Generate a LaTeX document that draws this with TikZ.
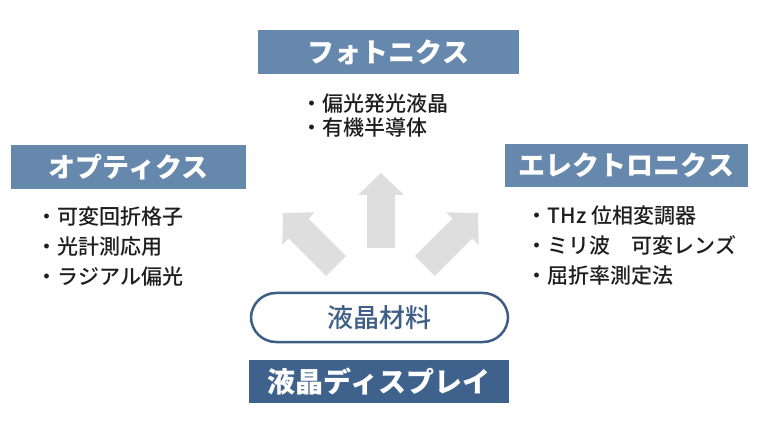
\documentclass[tikz,border=0pt]{standalone}
\usepackage{fontspec}
\newfontfamily\jp{Noto Sans CJK JP}
\newfontfamily\jpm{Noto Sans CJK JP Medium}
\definecolor{titleblue}{RGB}{102,136,172}
\definecolor{darkblue}{RGB}{62,98,140}
\definecolor{pillblue}{RGB}{62,94,134}
\definecolor{arrowgray}{RGB}{222,222,222}
\definecolor{textgray}{RGB}{30,30,30}
\tikzset{
  titlebox/.style={fill=titleblue, text=white, inner sep=0pt, font=\jp\bfseries\fontsize{27bp}{32bp}\selectfont},
  listtext/.style={anchor=west, inner sep=0pt, align=left, text=textgray, font=\jpm\fontsize{21bp}{30bp}\selectfont},
  bigarrow/.pic={\fill[arrowgray] (0,0) -- (23,22) -- (14,22) -- (14,75) -- (-14,75) -- (-14,22) -- (-23,22) -- cycle;}
}
\begin{document}
\begin{tikzpicture}[x=1bp,y=-1bp]
\useasboundingbox (0,0) rectangle (759,433);
\node[titlebox, minimum width=261bp, minimum height=44bp] (photo) at (388.5,52) {フォトニクス};
\node[titlebox, minimum width=235bp, minimum height=44bp] (optics) at (128.5,167) {オプティクス};
\node[titlebox, minimum width=243bp, minimum height=43bp] (elec) at (626.5,165.5) {エレクトロニクス};
\node[listtext, font=\jpm\fontsize{21bp}{24bp}\selectfont] (photolist) at (301.5,116) {・偏光発光液晶\\・有機半導体};
\node[listtext] (opticslist) at (36.5,247) {・可変回折格子\\・光計測応用\\・ラジアル偏光};
\node[listtext] (eleclist) at (526.5,246) {・THz 位相変調器\\・ミリ波　可変レンズ\\・屈折率測定法};
\pic at (381,173) {bigarrow};
\pic[rotate=45] at (283,213) {bigarrow};
\pic[rotate=-45] at (478,213) {bigarrow};
\node[draw=pillblue, line width=2.5bp, rounded corners=25bp, minimum width=257bp, minimum height=49bp, inner sep=0pt, text=pillblue, font=\jpm\fontsize{26bp}{30bp}\selectfont] (lcm) at (379.5,317.5) {液晶材料};
\node[fill=darkblue, text=white, inner sep=0pt, minimum width=260bp, minimum height=43bp, font=\jp\bfseries\fontsize{28bp}{32bp}\selectfont] (lcd) at (379,381.5) {液晶ディスプレイ};
\end{tikzpicture}
\end{document}
